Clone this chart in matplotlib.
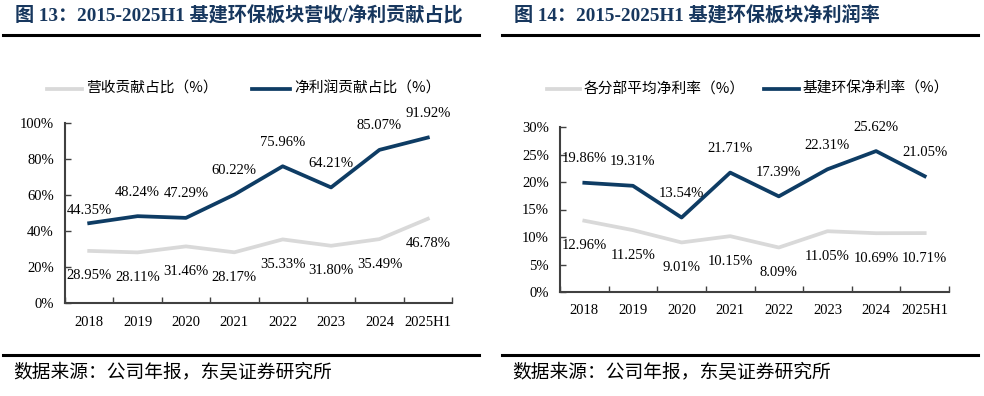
import matplotlib
matplotlib.use("Agg")
import matplotlib.pyplot as plt
from matplotlib.lines import Line2D
from matplotlib.ticker import FuncFormatter, MultipleLocator

# data
years = ["2018", "2019", "2020", "2021", "2022", "2023", "2024", "2025H1"]
rev_share = [28.95, 28.11, 31.46, 28.17, 35.33, 31.80, 35.49, 46.78]
profit_share = [44.35, 48.24, 47.29, 60.22, 75.96, 64.21, 85.07, 91.92]
avg_margin = [12.96, 11.25, 9.01, 10.15, 8.09, 11.05, 10.69, 10.71]
infra_margin = [19.86, 19.31, 13.54, 21.71, 17.39, 22.31, 25.62, 21.05]

title_left = "图 13：2015-2025H1 基建环保板块营收/净利贡献占比"
title_right = "图 14：2015-2025H1 基建环保板块净利润率"
legend_left = ["营收贡献占比（%）", "净利润贡献占比（%）"]
legend_right = ["各分部平均净利率（%）", "基建环保净利率（%）"]
source = "数据来源：公司年报，东吴证券研究所"

NAVY = "#0E3C64"
GREY = "#D9D9D9"
TITLE_C = "#17375E"
FONTS = ["Liberation Serif", "Noto Sans CJK SC"]

plt.rcParams["font.family"] = FONTS

W, H = 984, 396
fig = plt.figure(figsize=(W / 100, H / 100), dpi=100)


def fx(px):
    return px / W


def fy(py):
    return 1 - py / H


def panel(x0, title, legend, legend_x, ax_box, ymax, ystep, grey, navy):
    # title, rules, source
    fig.text(fx(x0 + 12), fy(16), title, fontsize=13.8, fontweight="bold",
             color=TITLE_C, va="center", ha="left", family=FONTS)
    fig.add_artist(Line2D([fx(x0), fx(x0 + 476)], [fy(35), fy(35)],
                          color="black", lw=2.2))
    fig.add_artist(Line2D([fx(x0), fx(x0 + 476)], [fy(355), fy(355)],
                          color="black", lw=2.2))
    fig.text(fx(x0 + 10), fy(373), source, fontsize=13.5, va="center",
             ha="left", family=["Noto Sans CJK SC"])

    # legend
    for (lx0, lx1), lab, col in zip(legend_x, legend, [GREY, NAVY]):
        fig.add_artist(Line2D([fx(lx0), fx(lx1)], [fy(89), fy(89)],
                              color=col, lw=2.7))
        fig.text(fx(lx1 + 4), fy(89), lab, fontsize=10.6, va="center",
                 ha="left", family=["Noto Sans CJK SC"])

    l, t, r, b = ax_box
    ax = fig.add_axes([fx(l), fy(b), fx(r - l), (b - t) / H])
    x = list(range(len(years)))
    ax.plot(x, grey, color=GREY, lw=2.7)
    ax.plot(x, navy, color=NAVY, lw=2.7)

    for i, v in enumerate(navy):
        dy = 13 if i == 0 and ymax == 100 else 24
        ax.annotate(f"{v:.2f}%", (i, v), xytext=(0, dy),
                    textcoords="offset pixels", ha="center", va="center",
                    fontsize=10.5, family=FONTS)
    for i, v in enumerate(grey):
        ax.annotate(f"{v:.2f}%", (i, v), xytext=(0, -25),
                    textcoords="offset pixels", ha="center", va="center",
                    fontsize=10.5, family=FONTS)

    ax.set_xlim(-0.5, len(years) - 0.5)
    ax.set_ylim(0, ymax)
    ax.yaxis.set_major_locator(MultipleLocator(ystep))
    ax.yaxis.set_major_formatter(FuncFormatter(lambda v, p: f"{v:.0f}%"))
    ax.set_xticks([i - 0.5 for i in range(len(years) + 1)])
    ax.set_xticklabels([])
    ax.set_xticks(x, minor=True)
    ax.set_xticklabels(years, minor=True)
    ax.tick_params(axis="x", which="major", direction="in", length=4,
                   width=1, color="#404040")
    ax.tick_params(axis="x", which="minor", length=0, pad=9, labelsize=10.5)
    ax.tick_params(axis="y", direction="in", length=4, width=1,
                   color="#404040", labelsize=10.5, pad=8)
    for s in ["top", "right"]:
        ax.spines[s].set_visible(False)
    for s in ["left", "bottom"]:
        ax.spines[s].set_color("#404040")
        ax.spines[s].set_linewidth(1.5)
    ax.patch.set_alpha(0)
    for lab in ax.get_xticklabels(minor=True) + ax.get_yticklabels():
        lab.set_family(FONTS)
    return ax


panel(3, title_left, legend_left, [(47, 82), (252, 290)],
      (65, 123, 452, 303), 100, 20, rev_share, profit_share)
panel(502, title_right, legend_right, [(547, 580), (764, 799)],
      (560, 127, 949, 292), 30, 5, avg_margin, infra_margin)

fig.savefig("out.png", dpi=100)
